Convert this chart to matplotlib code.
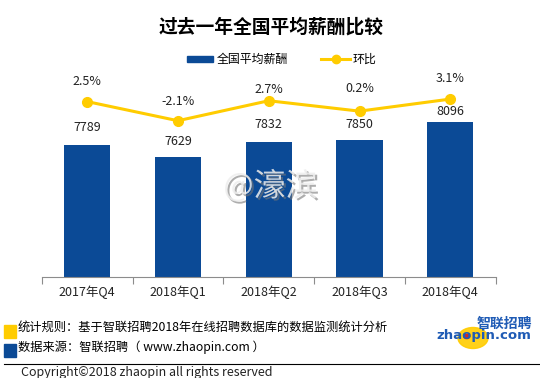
import numpy as np
import matplotlib.pyplot as plt
from matplotlib.patches import Rectangle, Circle
import matplotlib.patheffects as pe

plt.rcParams['font.family'] = ['Noto Sans CJK SC', 'DejaVu Sans']

# data
quarters = ['2017年Q4', '2018年Q1', '2018年Q2', '2018年Q3', '2018年Q4']
salary = [7789, 7629, 7832, 7850, 8096]
growth = [2.5, -2.1, 2.7, 0.2, 3.1]
growth_labels = ['2.5%', '-2.1%', '2.7%', '0.2%', '3.1%']

# label offsets (points) as placed in the original
bar_off = [12.2, 11.5, 12, 11.5, 7.2]
pct_off = [14.6, 14.2, 8.1, 16.6, 14.9]

blue = '#0B4A96'
yellow = '#FFCC00'

W, H = 540, 378
fig = plt.figure(figsize=(W / 100, H / 100), dpi=100)


def fx(x):
    return x / W


def fy(y):
    return 1 - y / H


ax = fig.add_axes([fx(41.7), fy(277.3), fx(454), 207.3 / H])
x = np.arange(len(quarters))
ax.bar(x, salary, width=0.507, color=blue, zorder=2)
ax.set_xlim(-0.5, 4.5)
ax.set_ylim(6040, 8778)
for s in ['top', 'right', 'left']:
    ax.spines[s].set_visible(False)
ax.spines['bottom'].set_color('#8C8C8C')
ax.set_yticks([])
ax.set_xticks(np.arange(-0.5, 5, 1))
ax.set_xticklabels([])
ax.tick_params(axis='x', length=5, color='#8C8C8C', direction='out')
for i, q in enumerate(quarters):
    ax.text(i, -0.073, q, transform=ax.get_xaxis_transform(), ha='center',
            va='center', fontsize=9, color='#222222')
for i, v in enumerate(salary):
    ax.annotate(str(v), (i, v), xytext=(0, bar_off[i]), textcoords='offset points',
                ha='center', va='center', fontsize=9, color='#222222')

ax2 = ax.twinx()
ax2.plot(x, growth, color=yellow, lw=2.2, marker='o', ms=7, zorder=3)
ax2.set_ylim(-39.69, 10.08)
ax2.axis('off')
for i, v in enumerate(growth):
    ax2.annotate(growth_labels[i], (i, v), xytext=(0, pct_off[i]), textcoords='offset points',
                 ha='center', va='center', fontsize=9, color='#222222')

# title
fig.text(fx(271), fy(27), '过去一年全国平均薪酬比较', ha='center', va='center',
         fontsize=13.5, fontweight='bold', color='black')

# legend
fig.patches.append(Rectangle((fx(187), fy(62)), fx(26), 6 / H, color=blue,
                             transform=fig.transFigure))
fig.text(fx(217), fy(59), '全国平均薪酬', ha='left', va='center', fontsize=8.6)
fig.lines.append(plt.Line2D([fx(321), fx(350)], [fy(59), fy(59)], color=yellow,
                            lw=2.2, transform=fig.transFigure))
fig.lines.append(plt.Line2D([fx(335.5)], [fy(59)], color=yellow, marker='o', ms=6,
                            transform=fig.transFigure))
fig.text(fx(353), fy(59), '环比', ha='left', va='center', fontsize=8.6)

# watermark
fig.text(fx(270.5), fy(186.5), '@濠滨', ha='center', va='center', fontsize=23,
         color='#EEEEEE', alpha=0.85,
         path_effects=[pe.withSimplePatchShadow(offset=(1.5, -1.5), shadow_rgbFace='#777777', alpha=0.6)])

# notes
fig.patches.append(Rectangle((fx(3.5), fy(338)), fx(12), 13 / H, color=yellow,
                             transform=fig.transFigure))
fig.patches.append(Rectangle((fx(3.5), fy(357)), fx(12), 13 / H, color=blue,
                             transform=fig.transFigure))
fig.text(fx(18), fy(327), '统计规则：基于智联招聘2018年在线招聘数据库的数据监测统计分析',
         ha='left', va='center', fontsize=8.8)
fig.text(fx(18), fy(347), '数据来源：智联招聘（ www.zhaopin.com ）',
         ha='left', va='center', fontsize=8.8)
fig.lines.append(plt.Line2D([fx(3.5), fx(540)], [fy(363.5), fy(363.5)], color='black',
                            lw=0.8, transform=fig.transFigure))
fig.text(fx(21), fy(372.5), 'Copyright©2018 zhaopin all rights reserved',
         ha='left', va='center', fontsize=9, color='#222222')

# logo
fig.patches.append(Circle((fx(473), fy(338)), 15 / W, color=yellow, alpha=0.9,
                          transform=fig.transFigure))
fig.text(fx(532), fy(324), '智联招聘', ha='right', va='center', fontsize=10,
         fontweight='bold', style='italic', color='#1F5BB5')
fig.text(fx(483.5), fy(336), 'zhaopin.com', ha='center', va='center', fontsize=9.5,
         fontweight='bold', color='#1F5BB5', family='DejaVu Sans')
fig.patches.append(Circle((fx(466.7), fy(336.5)), 3 / W, color='#D6281F',
                          transform=fig.transFigure))

fig.savefig('out.png', dpi=100)
